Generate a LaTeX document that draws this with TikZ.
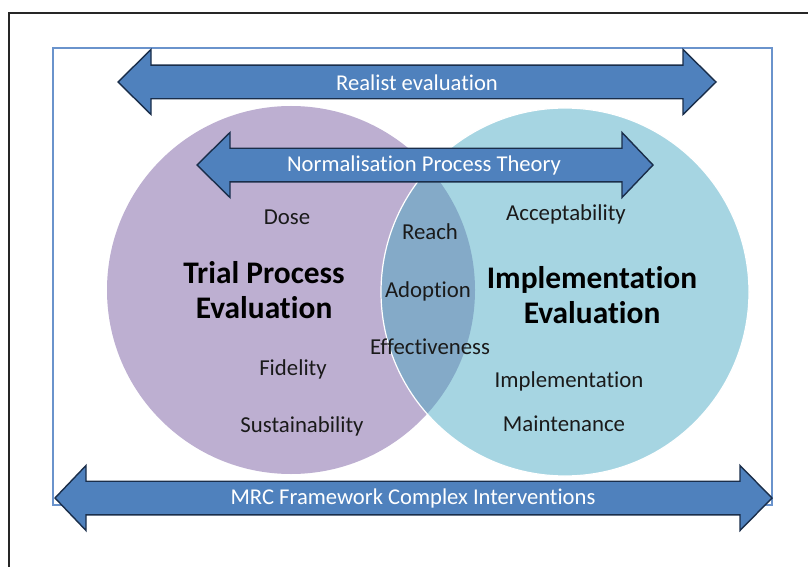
\documentclass[tikz,border=0pt]{standalone}
\usepackage{fontspec}
\setmainfont{Carlito}[Ligatures=NoCommon]
\definecolor{arrowfill}{HTML}{4F81BD}
\definecolor{arrowline}{HTML}{1A2E4A}
\definecolor{frameblue}{HTML}{6A93CC}
\definecolor{purplec}{HTML}{BDAFD1}
\definecolor{bluec}{HTML}{A6D5E2}
\definecolor{lensc}{HTML}{84AAC8}
\definecolor{txt}{HTML}{1A1A1A}
\newcommand\dblarr[5]{%
  \path[arrowshape] (#1,#5) -- (#2,#5-32.5) -- (#2,#5-16.8) -- (#3,#5-16.8) -- (#3,#5-32.5)
    -- (#4,#5) -- (#3,#5+32.5) -- (#3,#5+16.8) -- (#2,#5+16.8) -- (#2,#5+32.5) -- cycle;}
\begin{document}
\begin{tikzpicture}[x=1pt,y=-1pt,
  arrowshape/.style={fill=arrowfill,draw=arrowline,line width=1.4pt,line join=miter},
  arrowtext/.style={text=white,font=\fontsize{22.6}{27}\selectfont,inner sep=0pt},
  lbl/.style={text=txt,font=\fontsize{22.8}{27}\selectfont,inner sep=0pt},
  title/.style={text=black,font=\bfseries\fontsize{31.4}{35}\selectfont,inner sep=0pt,align=center}]
\useasboundingbox (0,0) rectangle (808,567);
\fill[white] (0,0) rectangle (808,567);
% outer frame (partly cut off)
\draw[black!85,line width=1.1pt] (9,567) -- (9,13) -- (808,13);
% blue frame
\draw[frameblue,line width=1.3pt] (53,48) rectangle (772,505);
% top arrow
\dblarr{118}{151}{683}{716}{82}
% circles
\coordinate (pc) at (291,290);
\coordinate (bc) at (565,292);
\fill[purplec] (pc) circle (184);
\fill[bluec] (bc) circle (184);
\begin{scope}
  \clip (pc) circle (184);
  \fill[lensc] (bc) circle (184);
\end{scope}
\draw[white,line width=1.2pt] (bc) circle (184);
% NPT arrow
\dblarr{197}{230}{622}{653}{165}
% MRC arrow
\dblarr{55}{86}{740}{772}{498}
% texts
\node[arrowtext] (realist) at (417,83) {Realist evaluation};
\node[arrowtext] (npt) at (424,165) {Normalisation Process Theory};
\node[arrowtext] (mrc) at (413,498) {MRC Framework Complex Interventions};
\node[title] (tpe) at (264,290) {Trial Process\\Evaluation};
\node[title] (ie) at (592,295) {Implementation\\Evaluation};
\node[lbl] (dose) at (287,217) {Dose};
\node[lbl] (reach) at (430,232) {Reach};
\node[lbl] (accept) at (566,214) {Acceptability};
\node[lbl] (adopt) at (428,291) {Adoption};
\node[lbl] (effect) at (430,347) {Effectiveness};
\node[lbl] (fid) at (293,369) {Fidelity};
\node[lbl] (impl) at (569,381) {Implementation};
\node[lbl] (sust) at (302,426) {Sustainability};
\node[lbl] (maint) at (564,424) {Maintenance};
\end{tikzpicture}
\end{document}
